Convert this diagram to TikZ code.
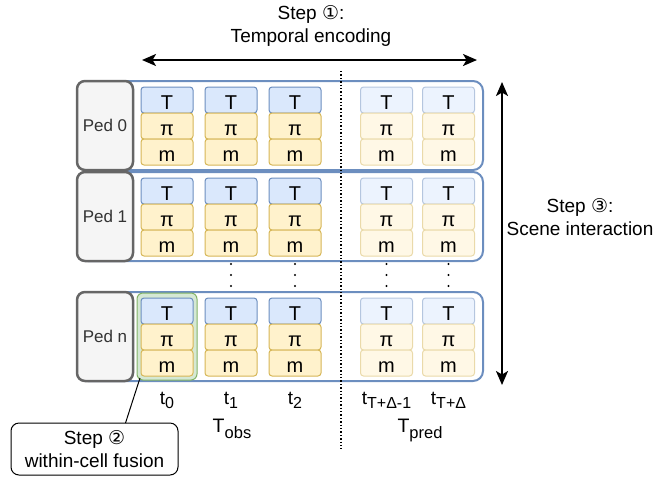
\documentclass[tikz,border=0pt]{standalone}
\usepackage{fontspec}
\setmainfont{Liberation Sans}
\newfontfamily\circfont{DejaVu Sans}
\usetikzlibrary{positioning,arrows.meta,calc}

\definecolor{tfill}{HTML}{DAE8FC}
\definecolor{tline}{HTML}{6C8EBF}
\definecolor{yfill}{HTML}{FFF2CC}
\definecolor{yline}{HTML}{D6B656}
\definecolor{gfill}{HTML}{D5E8D4}
\definecolor{gline}{HTML}{82B366}
\definecolor{pedfill}{HTML}{F5F5F5}
\definecolor{pedline}{HTML}{666666}
\definecolor{pedtext}{HTML}{333333}

\newcommand{\setpx}[2][1.2]{\fontsize{#2}{#1\dimexpr #2pt\relax}\selectfont}
\newcommand{\lowidx}[1]{\raisebox{-4pt}{\setpx{16}#1}}

\tikzset{
>={Stealth[length=14pt,width=12pt,inset=3.5pt]},
every node/.style={inner sep=0pt, outer sep=0pt},
}

\begin{document}
\begin{tikzpicture}
        [x=1pt, y=-1pt,
        cell/.style={rounded corners=3pt, minimum width=52pt, minimum height=26pt, text height=19.5pt, text depth=0pt, line width=1pt, font=\setpx{20}},
        tcell/.style={cell, draw=tline, fill=tfill},
        ycell/.style={cell, draw=yline, fill=yfill},
        ltcell/.style={cell, draw=tline!50, fill=tfill!50},
        lycell/.style={cell, draw=yline!50, fill=yfill!50},
        rowbox/.style={draw=tline, line width=2pt, rounded corners=10pt, minimum width=405pt, minimum height=89pt, anchor=north west},
        ped/.style={draw=pedline, fill=pedfill, line width=2.5pt, rounded corners=8pt, minimum width=56pt, minimum height=89pt, anchor=north west, text=pedtext, font=\setpx{17}},
        fusebox/.style={draw=gline, fill=gfill, line width=1pt, rounded corners=6pt, minimum width=60pt, minimum height=87pt},
        steptext/.style={align=center, font=\setpx[1.21]{19}},
        biarrow/.style={<->, line width=2pt},
        ]
        \useasboundingbox (0,0) rectangle (655,477);

        % one row per pedestrian
        \foreach \r/\ry in {0/81, 1/172, n/292} {
            \node [rowbox] (row\r) at (78,\ry) {};
            \node [ped] (ped\r) at (77,\ry) {Ped \r};
        }

        % within-cell fusion of t0, Ped n
        \node [fusebox] (fuse) at (167,336.5) {};

        % observed and predicted cells
        \foreach \r/\ry in {0/87, 1/178, n/298} {
            \foreach \c/\cx in {0/167, 1/231, 2/295} {
                \node [tcell, anchor=north] (T\r\c) at (\cx,\ry) {T};
                \node [ycell, below=0pt of T\r\c] (P\r\c) {π};
                \node [ycell, below=0pt of P\r\c] (M\r\c) {m};
            }
            \foreach \c/\cx in {3/386.5, 4/448.5} {
                \node [ltcell, anchor=north] (T\r\c) at (\cx,\ry) {T};
                \node [lycell, below=0pt of T\r\c] (P\r\c) {π};
                \node [lycell, below=0pt of P\r\c] (M\r\c) {m};
            }
        }

        % vertical dots between Ped 1 and Ped n
        \foreach \cx in {231, 295, 386.5, 448.5}
            \foreach \dy in {264, 275, 286}
                \fill (\cx,\dy) circle (1.2pt);

        % obs / pred split
        \draw [dotted, line width=1.4pt] (341,71) -- (341,449);

        % time labels
        \foreach \c/\cx/\idx in {0/167/0, 1/231/1, 2/295/2, 3/386.5/{T+Δ-1}, 4/448.5/{T+Δ}}
            \node [anchor=base, font=\setpx{19}] (lab\c) at (\cx,404) {t\lowidx{\idx}};
        \node [anchor=base, font=\setpx{19.5}] (obs) at (232,432) {T\raisebox{-6pt}{\setpx{16.5}obs}};
        \node [anchor=base, font=\setpx{19.5}] (pred) at (420,432) {T\raisebox{-6pt}{\setpx{16.5}pred}};

        % step 1
        \node [steptext] (enc) at (311,26) {Step {\circfont ①}:\\Temporal encoding};
        \coordinate (encL) at (142,60);
        \coordinate (encR) at (477,60);
        \draw [biarrow] (encL) -- (encR);

        % step 3
        \node [steptext] (scene) at (580,217) {Step {\circfont ③}:\\Scene interaction};
        \coordinate (sceneT) at (502,82);
        \coordinate (sceneB) at (502,385);
        \draw [biarrow] (sceneT) -- (sceneB);

        % step 2
        \node [draw, line width=1pt, rounded corners=8pt, fill=white, minimum width=167pt, minimum height=52pt, steptext] (callout) at (94.5,449) {Step {\circfont ②}\\within-cell fusion};
        \draw [line width=1pt] ($(fuse.south west)+(3,-2)$) -- ($(callout.north)+(31,0)$);
\end{tikzpicture}
\end{document}
